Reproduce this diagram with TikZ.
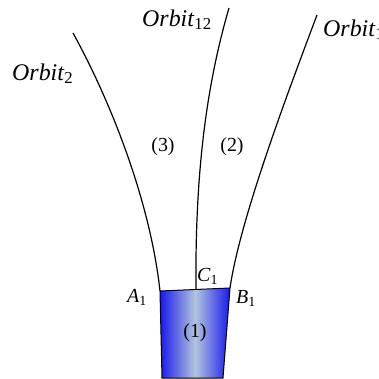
\documentclass[tikz,border=0pt]{standalone}
\usepackage{fontspec}
\setmainfont{Liberation Serif}
\usepackage{tikz}
\usetikzlibrary{positioning}
\definecolor{cupblue}{RGB}{25,25,235}
\definecolor{cuplight}{RGB}{178,196,222}
\tikzset{
  orb/.style={line width=1.2pt, black},
  lbl/.style={font=\fontsize{20}{24}\selectfont, inner sep=0pt, anchor=base west},
  olbl/.style={lbl, font=\fontsize{24}{28}\selectfont},
  num/.style={font=\fontsize{20}{24}\selectfont, inner sep=0pt}
}

\begin{document}
\begin{tikzpicture}[x=1bp, y=-1bp]
  \useasboundingbox (0,0) rectangle (379,379);
  % corners of region (1)
  \coordinate (a1) at (160,291);
  \coordinate (b1) at (230,288);
  \coordinate (c1) at (196,289);
  \coordinate (bl) at (162,378);
  \coordinate (br) at (223,378);
  % free ends of the orbits
  \coordinate (t2) at (73,33);
  \coordinate (t12) at (229,8);
  \coordinate (t1) at (317,15);

  \shade[left color=cupblue, right color=cupblue, middle color=cuplight]
    (a1) -- (b1) -- (br) -- (bl) -- cycle;
  \draw[line width=1pt] (a1) -- (b1) -- (br) -- (bl) -- cycle;

  \draw[orb] (a1) .. controls (150,200) and (110,100) .. (t2);
  \draw[orb] (c1) .. controls (195,180) and (205,90) .. (t12);
  \draw[orb] (b1) .. controls (240,220) and (285,100) .. (t1);

  \node[olbl] (o2) at (12,80) {\textit{Orbit}\textsubscript{2}};
  \node[olbl] (o12) at (142,26) {\textit{Orbit}\textsubscript{12}};
  \node[olbl] (o1) at (323,36) {\textit{Orbit}\textsubscript{1}};

  \node[num] (r3) at (163,147) {(3)};
  \node[num] (r2) at (232,147) {(2)};
  \node[num] (r1) at (195,333) {(1)};

  \node[lbl] (la) at (127,302) {\textit{A}\textsubscript{1}};
  \node[lbl] (lb) at (236,303) {\textit{B}\textsubscript{1}};
  \node[lbl] (lc) at (197,281) {\textit{C}\textsubscript{1}};
\end{tikzpicture}
\end{document}
